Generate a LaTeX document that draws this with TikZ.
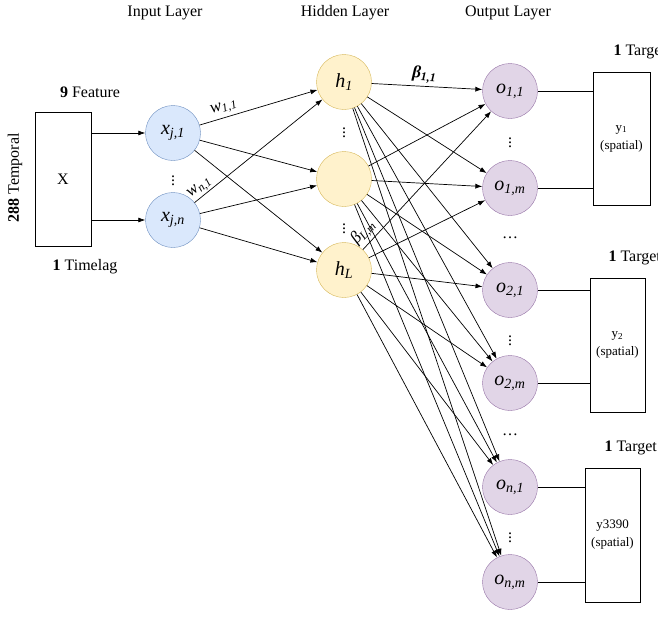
\documentclass[tikz,border=0pt]{standalone}
\usepackage{fontspec}
\setmainfont{Liberation Serif}
\usepackage{amsmath}
\usetikzlibrary{arrows.meta, positioning}
\definecolor{inBlue}{HTML}{DAE8FC}
\definecolor{inBlueLine}{HTML}{6C8EBF}
\definecolor{hidYellow}{HTML}{FFF2CC}
\definecolor{hidYellowLine}{HTML}{D6B656}
\definecolor{outPurple}{HTML}{E1D5E7}
\definecolor{outPurpleLine}{HTML}{9673A6}
\newcommand{\isub}[2]{\textit{#1\textsubscript{#2}}}

\begin{document}
\begin{tikzpicture}[
x=1pt, y=-1pt,
font=\fontsize{16}{19}\selectfont,
neuron/.style={circle, draw, minimum size=55pt, inner sep=0pt, font=\fontsize{20}{22}\selectfont},
inneuron/.style={neuron, draw=inBlueLine, fill=inBlue},
hidneuron/.style={neuron, draw=hidYellowLine, fill=hidYellow},
outneuron/.style={neuron, draw=outPurpleLine, fill=outPurple},
box/.style={draw, minimum width=56pt, minimum height=134pt, align=center, font=\fontsize{13}{18}\selectfont},
wlabel/.style={font=\fontsize{17}{19}\selectfont, sloped},
arrow/.style={-{Latex[length=7pt, width=5pt]}, line width=0.7pt},
link/.style={line width=0.7pt}
]
\useasboundingbox (0,0) rectangle (658,616);

\node (inTitle) at (165,13) {Input Layer};
\node (hidTitle) at (345,13) {Hidden Layer};
\node (outTitle) at (508,13) {Output Layer};

\node[box, font=\fontsize{16}{19}\selectfont] (X) at (63,179) {X};
\node (feature) at (90,92) {\textbf{9} Feature};
\node (timelag) at (85,267) {\textbf{1} Timelag};
\node[rotate=90] (temporal) at (15,178) {\textbf{288} Temporal};

\node[inneuron] (xj1) at (173,133) {\isub{x}{j,1}};
\node[inneuron] (xjn) at (173,220) {\isub{x}{j,n}};
\node (xdots) at (173,178) {$\vdots$};

\node[hidneuron] (h1) at (344,82) {\isub{h}{1}};
\node[hidneuron] (hmid) at (344,179) {};
\node[hidneuron] (hL) at (344,270) {\isub{h}{L}};
\node (hdotsA) at (344,130) {$\vdots$};
\node (hdotsB) at (344,226) {$\vdots$};

\node[outneuron] (o11) at (510,91) {\isub{o}{1,1}};
\node[outneuron] (o1m) at (510,188) {\isub{o}{1,m}};
\node[outneuron] (o21) at (510,290) {\isub{o}{2,1}};
\node[outneuron] (o2m) at (510,383) {\isub{o}{2,m}};
\node[outneuron] (on1) at (510,487) {\isub{o}{n,1}};
\node[outneuron] (onm) at (510,582) {\isub{o}{n,m}};
\node (odotsA) at (510,140) {$\vdots$};
\node (odotsB) at (510,238) {\dots};
\node (odotsC) at (510,338) {$\vdots$};
\node (odotsD) at (510,435) {\dots};
\node (odotsE) at (510,535) {$\vdots$};

\node[box, minimum width=57pt, minimum height=133pt] (y1) at (621.5,138.5) {y\textsubscript{1}\\(spatial)};
\node[box, minimum width=55pt] (y2) at (617.5,345) {y\textsubscript{2}\\(spatial)};
\node[box, minimum width=55pt] (y3) at (612.5,535) {y3390\\(spatial)};
\node[anchor=west] (t1) at (610,52) {\textbf{1} Target};
\node[anchor=west] (t2) at (605,258) {\textbf{1} Target};
\node[anchor=west] (t3) at (601,448) {\textbf{1} Target};

\draw[arrow] (X.east |- xj1) -- (xj1);
\draw[arrow] (X.east |- xjn) -- (xjn);

\foreach \i in {xj1,xjn}
  \foreach \j in {h1,hmid,hL}
    \draw[arrow] (\i) -- (\j);
\foreach \i in {h1,hmid,hL}
  \foreach \j in {o11,o1m,o21,o2m,on1,onm}
    \draw[arrow] (\i) -- (\j);

\path (xj1) -- node[wlabel, pos=0.23, above] {\isub{w}{1,1}} (h1);
\path (xjn) -- node[wlabel, pos=0.08, above, inner sep=1.5pt] {\isub{w}{n,1}} (h1);
\path (h1) -- node[wlabel, pos=0.47, above] {\textbf{\isub{β}{1,1}}} (o11);
\path (hL) -- node[wlabel, pos=0.07, above] {\isub{β}{L,m}} (o11);

\draw[link] (o11) -- (o11 -| y1.west);
\draw[link] (o1m) -- (o1m -| y1.west);
\draw[link] (o21) -- (o21 -| y2.west);
\draw[link] (o2m) -- (o2m -| y2.west);
\draw[link] (on1) -- (on1 -| y3.west);
\draw[link] (onm) -- (onm -| y3.west);
\end{tikzpicture}
\end{document}
